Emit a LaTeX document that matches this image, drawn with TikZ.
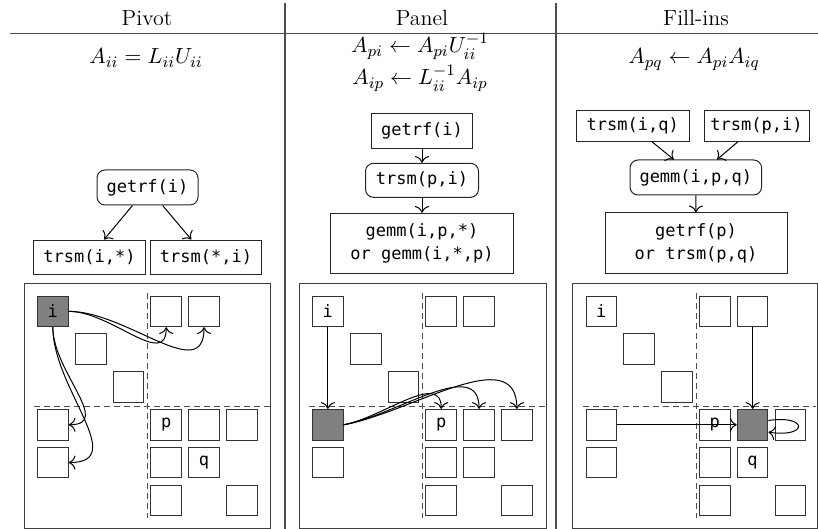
\documentclass[tikz,border=0pt]{standalone}
\usepackage{fontspec}
\newfontfamily\monof{DejaVu Sans Mono}
\usetikzlibrary{arrows.meta}
\begin{document}
\begin{tikzpicture}[x=0.5pt,y=-0.5pt, line width=0.5pt,
  box/.style={draw=black!85, font=\monof\fontsize{8.5}{11.5}\selectfont, inner sep=0pt, align=center},
  rbox/.style={box, rounded corners=4pt},
  cell/.style={draw=black!80, minimum size=15.35pt, inner sep=0pt, font=\monof\fontsize{8.5}{10}\selectfont},
  dk/.style={fill=black!50},
  wt/.style={},
  sepline/.style={draw=black!70, line width=0.55pt},
  gridbox/.style={draw=black!75, line width=0.5pt},
  dline/.style={draw=black!70, dash pattern=on 3pt off 2pt},
  hdr/.style={font=\fontsize{11}{13}\selectfont, inner sep=0pt, anchor=base},
  arr/.style={-{To[scale=1.25]}, draw=black}
]
\useasboundingbox (0,0) rectangle (818,529);
% table rules
\draw[sepline] (10,33.3) -- (818,33.3);
\draw[sepline] (285,3) -- (285,529);
\draw[sepline] (556,3) -- (556,529);
% headers
\node[hdr] (h1) at (147,26) {Pivot};
\node[hdr] (h2) at (422,26) {Panel};
\node[hdr] (h3) at (696,26) {Fill-ins};
% formulas
\node[hdr] (e1) at (146,64) {$A_{ii} = L_{ii}U_{ii}$};
\node[hdr] (e2) at (420,53) {$A_{pi} \leftarrow A_{pi}U_{ii}^{-1}$};
\node[hdr] (e3) at (420,85) {$A_{ip} \leftarrow L_{ii}^{-1}A_{ip}$};
\node[hdr] (e4) at (694,64) {$A_{pq} \leftarrow A_{pi}A_{iq}$};
% task graphs
\node[rbox, minimum width=50.5pt, minimum height=17.5pt] (g1) at (147.5,187.5) {getrf(i)};
\node[box, minimum width=56.3pt, minimum height=17pt] (t1) at (89.5,257) {trsm(i,*)};
\node[box, minimum width=55.8pt, minimum height=17pt] (t2) at (206,257) {trsm(*,i)};
\draw[arr] (g1) -- (t1);
\draw[arr] (g1) -- (t2);
\node[box, minimum width=50.8pt, minimum height=17.5pt] (g2) at (422,131) {getrf(i)};
\node[rbox, minimum width=56.5pt, minimum height=17pt] (t3) at (422,180.3) {trsm(p,i)};
\node[box, minimum width=91.5pt, minimum height=30pt] (m2) at (422,243.3) {gemm(i,p,*)\\or gemm(i,*,p)};
\draw[arr] (g2) -- (t3);
\draw[arr] (t3) -- (m2);
\node[box, minimum width=56.3pt, minimum height=15.5pt] (t4) at (632.7,126) {trsm(i,q)};
\node[box, minimum width=52.5pt, minimum height=15.5pt] (t5) at (756.5,126) {trsm(p,i)};
\node[rbox, minimum width=65.8pt, minimum height=17.5pt] (m3) at (695.8,177.5) {gemm(i,p,q)};
\node[box, minimum width=91pt, minimum height=30.5pt] (f3) at (696,243.3) {getrf(p)\\or trsm(p,q)};
\draw[arr] (t4) -- (m3);
\draw[arr] (t5) -- (m3);
\draw[arr] (m3) -- (f3);
% grid boxes and dashed partitions
\draw[gridbox] (24,283) rectangle (270,528);
\draw[gridbox] (299,283) rectangle (546,528);
\draw[gridbox] (572.5,283) rectangle (817,528);
\draw[dline] (147.5,293) -- (147.5,518);
\draw[dline] (34,406) -- (270,406);
\draw[dline] (422.5,293) -- (422.5,518);
\draw[dline] (309,406) -- (546,406);
\draw[dline] (696,293) -- (696,518);
\draw[dline] (583,406) -- (816,406);
% cells
\foreach \r/\c/\t/\s in {0/0/i/dk,0/3//wt,0/4//wt,1/1//wt,2/2//wt,3/0//wt,3/3/p/wt,3/4//wt,3/5//wt,4/0//wt,4/3//wt,4/4/q/wt,5/3//wt,5/5//wt}
  \node[cell,\s] (a\r\c) at ({24+28.85+37.8*\c},{311.35+37.8*\r}) {\t};
\foreach \r/\c/\t/\s in {0/0/i/wt,0/3//wt,0/4//wt,1/1//wt,2/2//wt,3/0//dk,3/3/p/wt,3/4//wt,3/5//wt,4/0//wt,4/3//wt,4/4//wt,5/3//wt,5/5//wt}
  \node[cell,\s] (b\r\c) at ({299+28.85+37.8*\c},{311.35+37.8*\r}) {\t};
\foreach \r/\c/\t/\s in {0/0/i/wt,0/3//wt,0/4//wt,1/1//wt,2/2//wt,3/0//wt,3/3/p/wt,3/4//dk,3/5//wt,4/0//wt,4/3//wt,4/4/q/wt,5/3//wt,5/5//wt}
  \node[cell,\s] (c\r\c) at ({572.5+28.85+37.8*\c},{311.35+37.8*\r}) {\t};
% pivot arrows
\draw[arr] (a00.east) to[out=0,in=-90,looseness=1.1] (a03.south);
\draw[arr] (a00.east) to[out=0,in=-90,looseness=1.1] (a04.south);
\draw[arr] (a00.south) to[out=-90,in=0,looseness=1.15] (a30.east);
\draw[arr] (a00.south) to[out=-90,in=0,looseness=1.15] (a40.east);
% panel arrows
\draw[arr] (b00.south) -- (b30.north);
\draw[arr] (b30.east) to[out=10,in=90] (b33.north);
\draw[arr] (b30.east) to[out=10,in=90] (b34.north);
\draw[arr] (b30.east) to[out=10,in=90] (b35.north);
% fill-in arrows
\draw[arr] (c04.south) -- (c34.north);
\draw[arr] (c30.east) -- (c34.west);
\draw[arr] (c34.15) .. controls +(40,-6) and +(40,6) .. (c34.-25);
\end{tikzpicture}
\end{document}
